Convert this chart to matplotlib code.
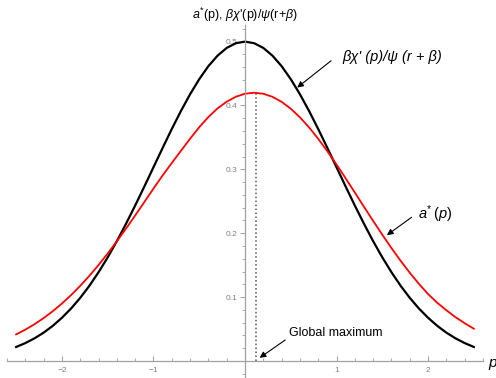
import matplotlib
matplotlib.use('Agg')
import matplotlib.pyplot as plt
from matplotlib.ticker import MultipleLocator, FixedLocator

plt.rcParams['font.family'] = ['Liberation Sans', 'DejaVu Sans']
plt.rcParams['mathtext.fontset'] = 'custom'
plt.rcParams['mathtext.it'] = 'Liberation Sans:italic'
plt.rcParams['mathtext.rm'] = 'Liberation Sans'

# values, step 0.1 in p
p = [round(-2.5 + 0.1 * i, 1) for i in range(51)]

# beta*chi'(p)/psi(r+beta)  (black)
chi_ratio = [0.0220, 0.0281, 0.0355, 0.0444, 0.0551, 0.0677, 0.0822, 0.0989, 0.1178, 0.1390,
             0.1623, 0.1876, 0.2148, 0.2434, 0.2730, 0.3033, 0.3335, 0.3631, 0.3914, 0.4176,
             0.4412, 0.4616, 0.4780, 0.4901, 0.4975, 0.5000, 0.4975, 0.4901, 0.4780, 0.4616,
             0.4412, 0.4176, 0.3914, 0.3631, 0.3335, 0.3033, 0.2730, 0.2434, 0.2148, 0.1876,
             0.1623, 0.1390, 0.1178, 0.0989, 0.0822, 0.0677, 0.0551, 0.0444, 0.0355, 0.0281,
             0.0220]

# a*(p)  (red)
a_star = [0.0417, 0.0491, 0.0576, 0.0672, 0.0780, 0.0900, 0.1032, 0.1177, 0.1334, 0.1503,
          0.1683, 0.1874, 0.2073, 0.2278, 0.2488, 0.2700, 0.2905, 0.3100, 0.3290, 0.3480,
          0.3660, 0.3820, 0.3954, 0.4059, 0.4137, 0.4184, 0.4200, 0.4184, 0.4136, 0.4057,
          0.3949, 0.3815, 0.3657, 0.3478, 0.3283, 0.3076, 0.2859, 0.2637, 0.2414, 0.2193,
          0.1977, 0.1768, 0.1569, 0.1382, 0.1208, 0.1048, 0.0912, 0.0795, 0.0686, 0.0592,
          0.0505]

p_max = 0.12
a_max = 0.42

fig = plt.figure(figsize=(4.96, 3.78), dpi=100)
ax = fig.add_axes([7 / 496, 1 / 378, 476 / 496, 352 / 378])

ax.plot(p, chi_ratio, color='black', lw=1.6)
ax.plot(p, a_star, color='red', lw=1.3)
ax.plot([p_max, p_max], [0, a_max], color='#555555', lw=1.1, linestyle=(0, (1, 1.6)))

ax.set_xlim(-2.6, 2.6)
ax.set_ylim(-0.025, 0.526)

for s in ['top', 'right']:
    ax.spines[s].set_visible(False)
ax.spines['left'].set_position(('data', 0))
ax.spines['bottom'].set_position(('data', 0))
for s in ['left', 'bottom']:
    ax.spines[s].set_color('#a0a0a0')
    ax.spines[s].set_linewidth(0.9)

ax.xaxis.set_major_locator(FixedLocator([-2, -1, 1, 2]))
ax.xaxis.set_minor_locator(MultipleLocator(0.2))
ax.yaxis.set_major_locator(FixedLocator([0.1, 0.2, 0.3, 0.4, 0.5]))
ax.yaxis.set_minor_locator(MultipleLocator(0.02))
ax.set_xticklabels(['\u22122', '\u22121', '1', '2'])
ax.set_yticklabels(['0.1', '0.2', '0.3', '0.4', '0.5'])
ax.tick_params(axis='x', which='both', direction='in', colors='#a0a0a0', labelcolor='#808080',
               labelsize=6, pad=4)
ax.tick_params(axis='y', which='both', direction='out', colors='#a0a0a0', labelcolor='#808080',
               labelsize=6, pad=2)
ax.tick_params(which='major', length=3.5, width=0.7)
ax.tick_params(which='minor', length=2, width=0.6)

# axis labels
ax.text(0, 0.542, "$a^{*}$(p), $\u03b2\u03c7$'(p)/$\u03c8$(r+$\u03b2$)", ha='center', va='center',
        fontsize=9, clip_on=False)
ax.text(2.66, -0.003, 'p', ha='left', va='center', fontsize=11, style='italic', clip_on=False)

# annotations
arrow = dict(arrowstyle='-|>', color='black', lw=0.8, mutation_scale=9, shrinkA=0, shrinkB=0)
ax.annotate('', xy=(0.57, 0.428), xytext=(0.94, 0.470), arrowprops=arrow)
ax.text(1.06, 0.476, "\u03b2\u03c7' (p)/\u03c8 (r + \u03b2)", ha='left', va='center',
        fontsize=10.5, style='italic')

ax.annotate('', xy=(1.55, 0.197), xytext=(1.82, 0.225), arrowprops=arrow)
ax.text(1.89, 0.230, '$a^{*}\\,(p)$', ha='left', va='center', fontsize=10.5)

ax.annotate('', xy=(0.16, 0.005), xytext=(0.44, 0.033), arrowprops=arrow)
ax.text(0.48, 0.044, 'Global maximum', ha='left', va='center', fontsize=9)

fig.savefig('out.png', dpi=100)
